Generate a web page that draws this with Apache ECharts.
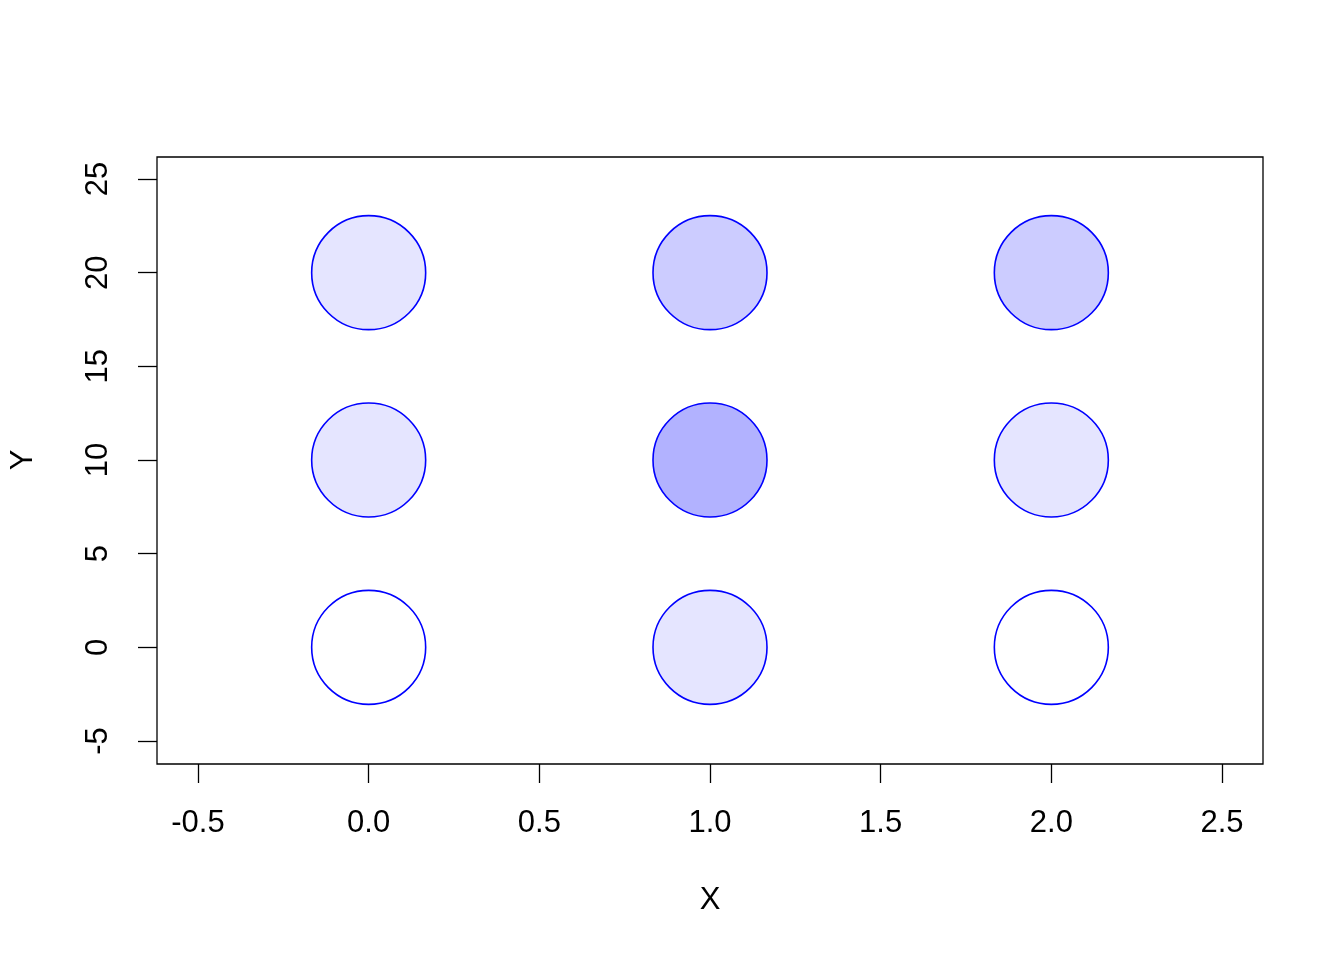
<!DOCTYPE html>
<html>
<head>
<meta charset="utf-8">
<script src="https://cdn.jsdelivr.net/npm/echarts@6/dist/echarts.min.js"></script>
<style>html,body{margin:0;padding:0;background:#fff}#c{width:1344px;height:960px}</style>
</head>
<body>
<div id="c"></div>
<script>
// Data
var xValues = [0, 1, 2, 0, 1, 2, 0, 1, 2];
var yValues = [0, 0, 0, 10, 10, 10, 20, 20, 20];
var shade   = [0, 1, 0, 1, 3, 1, 1, 2, 2]; // fill intensity (alpha steps of 0.1)
var xTicks = [-0.5, 0.0, 0.5, 1.0, 1.5, 2.0, 2.5];
var yTicks = [-5, 0, 5, 10, 15, 20, 25];

var FONT = '"Liberation Sans", Arial, Helvetica, sans-serif';
var pts = xValues.map(function (x, i) { return [x, yValues[i], shade[i]]; });

var chart = echarts.init(document.getElementById('c'), null, {renderer: 'canvas'});
chart.setOption({
  animation: false,
  backgroundColor: '#ffffff',
  grid: [
    {left: 198, right: 122, top: 179, bottom: 219, show: false},
    {left: 157, right: 81, top: 157, bottom: 196, show: true, borderColor: '#000', borderWidth: 1.3, backgroundColor: 'transparent'}
  ],
  xAxis: [
    {
      type: 'value', gridIndex: 0, min: xTicks[0], max: xTicks[xTicks.length - 1], interval: 0.5,
      position: 'bottom', offset: 23,
      axisLine: {show: false, onZero: false},
      axisTick: {show: true, length: 19, inside: false, lineStyle: {color: '#000', width: 1.3}},
      splitLine: {show: false},
      axisLabel: {color: '#000', fontSize: 31, fontFamily: FONT, margin: 44,
        formatter: function (v) { return v.toFixed(1); }},
      name: 'X', nameLocation: 'middle', nameGap: 121,
      nameTextStyle: {color: '#000', fontSize: 31, fontFamily: FONT}
    },
    {type: 'value', gridIndex: 1, show: false, min: -0.62, max: 2.62}
  ],
  yAxis: [
    {
      type: 'value', gridIndex: 0, min: yTicks[0], max: yTicks[yTicks.length - 1], interval: 5,
      position: 'left', offset: 41,
      axisLine: {show: false, onZero: false},
      axisTick: {show: true, length: 19, inside: false, lineStyle: {color: '#000', width: 1.3}},
      splitLine: {show: false},
      axisLabel: {color: '#000', fontSize: 31, fontFamily: FONT, margin: 43, rotate: 90,
        formatter: function (v) { return String(v); }},
      name: 'Y', nameLocation: 'middle', nameGap: 118, nameRotate: 90,
      nameTextStyle: {color: '#000', fontSize: 31, fontFamily: FONT}
    },
    {type: 'value', gridIndex: 1, show: false, min: -6.17, max: 26.17}
  ],
  series: [{
    type: 'scatter',
    xAxisIndex: 0, yAxisIndex: 0,
    data: pts,
    symbol: 'circle',
    symbolSize: 114,
    itemStyle: {
      color: function (p) { return 'rgba(0,0,255,' + (p.data[2] * 0.1) + ')'; },
      borderColor: '#0000ff',
      borderWidth: 1.6,
      opacity: 1
    },
    emphasis: {disabled: true}
  }]
});
</script>
</body>
</html>
